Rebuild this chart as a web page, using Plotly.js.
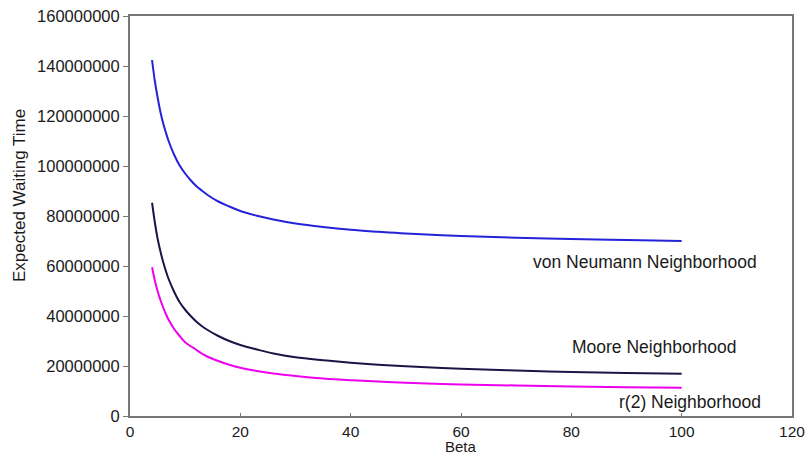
<!DOCTYPE html>
<html>
<head>
<meta charset="utf-8">
<script src="https://cdn.plot.ly/plotly-3.0.1.min.js"></script>
<style>
  html, body { margin: 0; padding: 0; background: #ffffff; }
  #chart { width: 807px; height: 457px; }
</style>
</head>
<body>
<div id="chart"></div>
<script>
// Beta values (x)
const beta = [4, 4.5, 5, 5.5, 6, 6.5, 7, 8, 9, 10, 11, 12, 13, 14, 16, 18, 20, 23, 26, 30, 35, 40, 45, 50, 60, 70, 80, 90, 100];

// Expected waiting time
const vonNeumann = [142400000, 134000000, 127500000, 121800000, 117200000, 113400000, 110000000, 104500000,
  100200000, 97000000, 94300000, 92000000, 90200000, 88500000, 85800000, 83800000, 82000000, 80100000,
  78600000, 77000000, 75600000, 74500000, 73700000, 73000000, 72000000, 71300000, 70800000, 70400000, 70000000];
const moore = [85300000, 77500000, 71000000, 66000000, 61700000, 58000000, 54800000, 49700000,
  45500000, 42500000, 40000000, 37800000, 36000000, 34500000, 32000000, 30000000, 28400000, 26600000,
  25000000, 23500000, 22300000, 21300000, 20500000, 19900000, 18900000, 18200000, 17600000, 17200000, 16900000];
const r2 = [59500000, 54200000, 50000000, 46500000, 43500000, 40800000, 38500000, 34800000,
  32000000, 29500000, 27900000, 26500000, 25000000, 23800000, 22000000, 20500000, 19300000, 18000000,
  17000000, 16000000, 15000000, 14300000, 13800000, 13300000, 12600000, 12200000, 11800000, 11500000, 11300000];

const seriesNames = ["von Neumann Neighborhood", "Moore Neighborhood", "r(2) Neighborhood"];
const xTitle = "Beta";
const yTitle = "Expected Waiting Time";

const yTickVals = [0, 20000000, 40000000, 60000000, 80000000, 100000000, 120000000, 140000000, 160000000];
const yTickText = ["0", "20000000", "40000000", "60000000", "80000000", "100000000", "120000000", "140000000", "160000000"];
const xTickVals = [0, 20, 40, 60, 80, 100, 120];

const FONT = "Liberation Sans, Arial, Helvetica, sans-serif";
const TXT = "#1a1a1a";

const traces = [
  { x: beta, y: vonNeumann, name: seriesNames[0], mode: "lines", line: { color: "#2323d8", width: 2, shape: "spline", smoothing: 1 } },
  { x: beta, y: moore, name: seriesNames[1], mode: "lines", line: { color: "#1b1545", width: 2, shape: "spline", smoothing: 1 } },
  { x: beta, y: r2, name: seriesNames[2], mode: "lines", line: { color: "#ee00ee", width: 2, shape: "spline", smoothing: 1 } }
];

const layout = {
  width: 807,
  height: 457,
  margin: { l: 130, r: 15, t: 16, b: 41 },
  paper_bgcolor: "#ffffff",
  plot_bgcolor: "#ffffff",
  showlegend: false,
  font: { family: FONT, size: 16.5, color: TXT },
  xaxis: {
    range: [0, 120],
    tickvals: xTickVals,
    ticks: "inside",
    ticklen: 3,
    tickcolor: "#777777",
    showgrid: false,
    zeroline: false,
    showline: true,
    mirror: true,
    linecolor: "#777777",
    linewidth: 2,
    tickfont: { family: FONT, size: 15.5, color: TXT },
    automargin: false
  },
  yaxis: {
    range: [0, 160000000],
    tickvals: yTickVals,
    ticktext: yTickText,
    ticks: "outside",
    ticklen: 5,
    tickcolor: "#777777",
    showgrid: false,
    zeroline: false,
    showline: true,
    mirror: true,
    linecolor: "#777777",
    linewidth: 2,
    tickfont: { family: FONT, size: 16.5, color: TXT },
    automargin: false
  },
  annotations: [
    { xref: "paper", yref: "paper", x: 0, y: 0.55, xshift: -110, textangle: -90,
      xanchor: "center", yanchor: "middle", text: yTitle, showarrow: false,
      font: { family: FONT, size: 17, color: TXT } },
    { xref: "paper", yref: "paper", x: 0.5, y: -0.1, xanchor: "center", yanchor: "bottom",
      borderpad: 0, text: xTitle, showarrow: false, font: { family: FONT, size: 15, color: TXT } },
    { x: 93.3, y: 61700000, xref: "x", yref: "y", text: seriesNames[0], showarrow: false,
      font: { family: FONT, size: 17.5, color: TXT } },
    { x: 94.9, y: 27700000, xref: "x", yref: "y", text: seriesNames[1], showarrow: false,
      font: { family: FONT, size: 17.5, color: TXT } },
    { x: 101.6, y: 5700000, xref: "x", yref: "y", text: seriesNames[2], showarrow: false,
      font: { family: FONT, size: 17.5, color: TXT } }
  ]
};

Plotly.newPlot("chart", traces, layout, { displayModeBar: false, staticPlot: true });
</script>
</body>
</html>
